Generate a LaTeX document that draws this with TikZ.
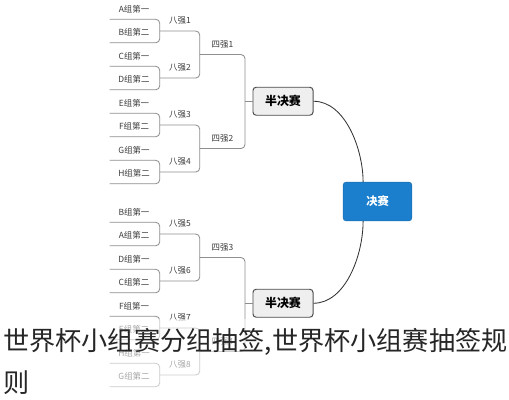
\documentclass[tikz,border=0pt]{standalone}
\usepackage{fontspec}
\setmainfont{Noto Sans CJK SC}
\definecolor{linegray}{HTML}{8E8E8E}
\definecolor{textgray}{HTML}{3A3A3A}
\definecolor{boxgray}{HTML}{EFEFEF}
\definecolor{finalblue}{HTML}{1C7FCD}
\tikzset{
  leaf/.style={minimum width=1.2cm, minimum height=0.5cm, inner sep=0pt, text=textgray, font=\fontsize{6}{7}\selectfont},
  qf/.style={leaf, minimum width=1cm},
  sf/.style={leaf, minimum width=1.125cm},
  link/.style={draw=linegray, line width=0.6pt, rounded corners=0.1cm},
  semibox/.style={draw=black!70, line width=0.7pt, fill=boxgray, rounded corners=0.08cm, minimum width=1.5cm, minimum height=0.7cm, font=\fontsize{8.5}{10}\bfseries\selectfont},
  finalbox/.style={draw=finalblue!85!black, fill=finalblue, rounded corners=0.08cm, minimum width=1.72cm, minimum height=0.97cm, text=white, font=\fontsize{8}{10}\bfseries\selectfont},
  curve/.style={draw=black!80, line width=0.6pt}
}
\begin{document}
\begin{tikzpicture}[x=0.025cm, y=-0.025cm]
  \useasboundingbox (0,0) rectangle (509,400);
  % leaves, upper half
  \node[leaf] (l1) at (134,9) {A组第一};
  \node[leaf] (l2) at (134,32.5) {B组第二};
  \node[leaf] (l3) at (134,56) {C组第一};
  \node[leaf] (l4) at (134,79.5) {D组第二};
  \node[leaf] (l5) at (134,103) {E组第一};
  \node[leaf] (l6) at (134,126.5) {F组第二};
  \node[leaf] (l7) at (134,150) {G组第一};
  \node[leaf] (l8) at (134,173.5) {H组第二};
  % leaves, lower half
  \node[leaf] (l9) at (134,212) {B组第一};
  \node[leaf] (l10) at (134,235.5) {A组第二};
  \node[leaf] (l11) at (134,259) {D组第一};
  \node[leaf] (l12) at (134,282.5) {C组第二};
  \node[leaf] (l13) at (134,306) {F组第一};
  \node[leaf] (l14) at (134,329.5) {E组第二};
  \node[leaf] (l15) at (134,353) {H组第一};
  \node[leaf] (l16) at (134,376.5) {G组第二};
  % quarter finals
  \node[qf] (q1) at (180,20.75) {八强1};
  \node[qf] (q2) at (180,67.75) {八强2};
  \node[qf] (q3) at (180,114.75) {八强3};
  \node[qf] (q4) at (180,161.75) {八强4};
  \node[qf] (q5) at (180,223.75) {八强5};
  \node[qf] (q6) at (180,270.75) {八强6};
  \node[qf] (q7) at (180,317.75) {八强7};
  \node[qf] (q8) at (180,364.75) {八强8};
  % last four
  \node[sf] (s1) at (222.5,44.25) {四强1};
  \node[sf] (s2) at (222.5,138.25) {四强2};
  \node[sf] (s3) at (222.5,247.25) {四强3};
  \node[sf] (s4) at (222.5,341.25) {四强4};
  \coordinate (j1) at (245,101.25);
  \coordinate (j2) at (245,303.25);
  \node[semibox] (semi1) at (283,101.25) {半决赛};
  \node[semibox] (semi2) at (283,303.25) {半决赛};
  \node[finalbox] (final) at (377.5,201.5) {决赛};
  % brackets
  \draw[link] (l1.south west) -| (q1.south west) |- (l2.south west);
  \draw[link] (l3.south west) -| (q2.south west) |- (l4.south west);
  \draw[link] (l5.south west) -| (q3.south west) |- (l6.south west);
  \draw[link] (l7.south west) -| (q4.south west) |- (l8.south west);
  \draw[link] (l9.south west) -| (q5.south west) |- (l10.south west);
  \draw[link] (l11.south west) -| (q6.south west) |- (l12.south west);
  \draw[link] (l13.south west) -| (q7.south west) |- (l14.south west);
  \draw[link] (l15.south west) -| (q8.south west) |- (l16.south west);
  \draw[link] (q1.south west) -| (s1.south west) |- (q2.south west);
  \draw[link] (q3.south west) -| (s2.south west) |- (q4.south west);
  \draw[link] (q5.south west) -| (s3.south west) |- (q6.south west);
  \draw[link] (q7.south west) -| (s4.south west) |- (q8.south west);
  \draw[link] (s1.south west) -| (j1) |- (s2.south west);
  \draw[link] (s3.south west) -| (j2) |- (s4.south west);
  \draw[link] (j1) -- (semi1);
  \draw[link] (j2) -- (semi2);
  % to the final
  \draw[curve] (semi1.east) .. controls +(32,0) and +(0,-32) .. ([xshift=-0.36cm]final.north);
  \draw[curve] ([xshift=-0.36cm]final.south) .. controls +(0,34) and +(32,0) .. (semi2.east);
  % caption over the picture
  \fill[white, opacity=0.55] (0,319) rectangle (509,400);
  \node[anchor=north west, inner sep=0pt, align=left, text=black!85, font=\fontsize{18.6}{29.9}\selectfont] (caption) at (3,328) {世界杯小组赛分组抽签,世界杯小组赛抽签规\\则};
\end{tikzpicture}
\end{document}
